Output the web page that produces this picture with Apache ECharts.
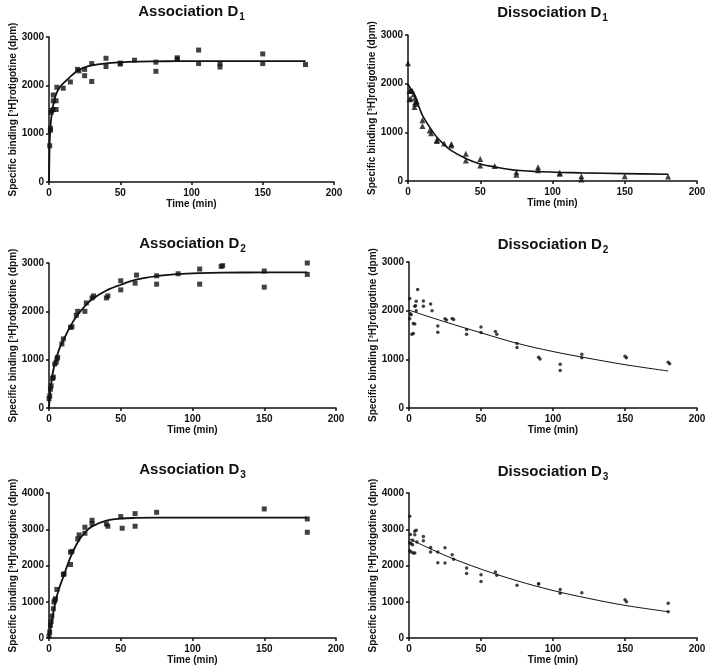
<!DOCTYPE html>
<html>
<head>
<meta charset="utf-8">
<script src="https://cdn.jsdelivr.net/npm/echarts@6/dist/echarts.min.js"></script>
<style>html,body{margin:0;padding:0;background:#fff;}#c{width:709px;height:669px;}</style>
</head>
<body>
<div id="c"></div>
<script>
// ---- data ----
const xTicks = [0, 50, 100, 150, 200];
const yMax = [3000, 3000, 3000, 3000, 4000, 4000];
const titles = ['Association D', 'Dissociation D', 'Association D', 'Dissociation D', 'Association D', 'Dissociation D'];
const titleSubs = ['1', '1', '2', '2', '3', '3'];
const xName = 'Time (min)';
const yName = 'Specific binding [³H]rotigotine (dpm)';

const assocD1Points = [[0.5,750],[1,1070],[1,1110],[1.5,1440],[2,1480],[3,1500],[3,1680],[3,1800],[5,1500],[5,1680],[5.5,1960],[10,1940],[15,2070],[20,2330],[21,2300],[25,2330],[25,2200],[30,2450],[30,2080],[40,2560],[40,2390],[50,2460],[50,2440],[60,2520],[75,2480],[75,2290],[90,2570],[90,2540],[105,2730],[105,2450],[120,2450],[120,2380],[150,2650],[150,2450],[180,2430]];
const assocD1Fit = [[0,0],[0.25,480],[0.5,850],[1,1130],[1.5,1300],[2,1410],[3,1600],[4,1720],[5,1820],[7.5,1960],[10,2040],[12.5,2110],[15,2180],[20,2300],[25,2370],[30,2415],[40,2456],[50,2477],[60,2490],[75,2496],[90,2499],[120,2500],[150,2500],[180,2500]];

const dissD1Points = [[0,2420],[1,1850],[2,1860],[3,1850],[1,1680],[2,1690],[4,1780],[5,1710],[5,1620],[5,1580],[4.5,1520],[6,1640],[10,1250],[10,1130],[15,1040],[16,980],[20,840],[20,820],[25,770],[30,760],[30,730],[40,560],[40,420],[50,450],[50,320],[60,310],[75,180],[75,130],[90,280],[90,220],[105,150],[105,170],[120,100],[120,30],[150,100],[180,90]];
const dissD1Fit = [[0,1990],[2.5,1860],[5,1730],[7.5,1530],[10,1350],[15,1107],[20,900],[25,750],[30,623],[40,464],[50,350],[60,290],[75,221],[90,194],[105,178],[120,166],[150,152],[180,140]];

const assocD2Points = [[0,194],[0.5,250],[1,389],[1.5,458],[2.5,611],[3,639],[4,910],[5,944],[5.5,1014],[6,1048],[9,1326],[10,1430],[15,1667],[16,1680],[19,1917],[20,2000],[25,2000],[26,2174],[30,2278],[31,2319],[40,2278],[41,2319],[50,2444],[50,2632],[60,2583],[61,2750],[75,2562],[75,2736],[90,2778],[105,2875],[105,2562],[120,2930],[121,2944],[150,2833],[150,2500],[180,3000],[180,2764]];
const assocD2Fit = [[0,0],[1,380],[2,600],[3,780],[5,1020],[7.5,1250],[10,1400],[15,1700],[20,1930],[25,2110],[30,2250],[40,2430],[50,2550],[60,2650],[75,2730],[90,2770],[105,2790],[120,2800],[150,2805],[180,2805]];

const dissD2Points = [[0.5,2248],[1,1938],[0.5,1834],[1.5,1917],[2,1517],[3,1531],[3,1738],[4,1724],[4,2090],[4.5,2103],[5,2000],[5,2193],[6,2434],[10,2200],[10,2090],[15,2138],[16,2000],[20,1683],[20,1559],[25,1834],[26,1807],[30,1841],[31,1820],[40,1614],[40,1517],[50,1662],[50,1552],[60,1572],[61,1517],[75,1324],[75,1241],[90,1041],[91,1007],[105,897],[105,772],[120,1103],[120,1034],[150,1062],[151,1034],[180,938],[181,910]];
const dissD2Fit = [[0,2010],[25,1770],[50,1545],[75,1330],[100,1160],[125,1020],[150,890],[180,760]];

const assocD3Points = [[0,55],[0.5,165],[1,349],[1.5,459],[2,605],[3,807],[3.5,991],[4,1037],[4.5,1083],[5.5,1340],[10,1752],[10.5,1771],[15,2367],[15,2028],[16,2390],[20,2734],[21,2844],[25,3055],[25,2890],[30,3248],[30,3156],[40,3147],[41,3083],[50,3349],[51,3028],[60,3431],[60,3083],[75,3468],[150,3560],[180,3284],[180,2917]];
const assocD3Fit = [[0,0],[2.5,600],[5,1083],[7.5,1420],[10,1690],[15,2230],[20,2640],[25,2910],[30,3080],[40,3240],[50,3294],[60,3312],[75,3320],[100,3321],[150,3321],[180,3321]];

const dissD3Points = [[0.5,3359],[1,2856],[0.5,2627],[1.5,2600],[2.5,2572],[0.5,2407],[1.5,2370],[3,2343],[4,2343],[2.5,2700],[4,2947],[5,2975],[4,2847],[5.5,2645],[10,2800],[10,2682],[15,2499],[15,2370],[20,2370],[20,2078],[25,2490],[25,2069],[30,2297],[31,2169],[40,1931],[40,1776],[50,1748],[50,1556],[60,1821],[61,1730],[75,1455],[90,1492],[90,1500],[105,1336],[105,1236],[120,1245],[150,1053],[151,998],[180,961],[180,723]];
const dissD3Fit = [[0,2740],[25,2280],[50,1900],[75,1580],[100,1310],[125,1090],[150,900],[180,725]];

const pointSets = [assocD1Points, dissD1Points, assocD2Points, dissD2Points, assocD3Points, dissD3Points];
const fitSets = [assocD1Fit, dissD1Fit, assocD2Fit, dissD2Fit, assocD3Fit, dissD3Fit];

// ---- layout / style ----
const FONT = '"Liberation Sans", Arial, sans-serif';
const INK = '#111';
const grids = [
  {left: 49, top: 37, width: 285, height: 145},
  {left: 408, top: 35, width: 289, height: 146},
  {left: 49, top: 263, width: 287, height: 145},
  {left: 409, top: 262, width: 288, height: 146},
  {left: 49, top: 493, width: 287, height: 145},
  {left: 409, top: 493, width: 288, height: 145}
];
const titleTops = [4, 5, 236, 237, 462, 464];
const symbols = ['rect', 'triangle', 'rect', 'circle', 'rect', 'circle'];
const symbolSizes = [5, 6, 5, 3.5, 5, 3.5];
const lineWidths = [1.8, 1.6, 1.8, 1, 1.8, 1];
const plain = v => String(v);

const option = {
  animation: false,
  backgroundColor: '#fff',
  title: grids.map((g, i) => ({
    text: '{m|' + titles[i] + '}{s|' + titleSubs[i] + '}',
    left: g.left + g.width / 2,
    top: titleTops[i],
    textAlign: 'center',
    padding: 0,
    textStyle: {
      rich: {
        m: {fontFamily: FONT, fontSize: 15, fontWeight: 'bold', color: INK, verticalAlign: 'top', lineHeight: 18},
        s: {fontFamily: FONT, fontSize: 10, fontWeight: 'bold', color: INK, verticalAlign: 'top', lineHeight: 18, padding: [8, 0, 0, 1]}
      }
    }
  })),
  grid: grids.map(g => Object.assign({outerBoundsMode: 'none', containLabel: false}, g)),
  xAxis: grids.map((g, i) => ({
    type: 'value', gridIndex: i, min: xTicks[0], max: xTicks[xTicks.length - 1], interval: 50,
    name: xName, nameLocation: 'middle', nameGap: 16,
    nameTextStyle: {fontFamily: FONT, fontSize: 10, fontWeight: 'bold', color: INK},
    axisLine: {show: true, onZero: false, lineStyle: {color: INK, width: 1.5}},
    axisTick: {show: true, inside: false, length: 3, lineStyle: {color: INK, width: 1.5}},
    axisLabel: {fontFamily: FONT, fontSize: 10, fontWeight: 'bold', color: INK, margin: 6, formatter: plain},
    splitLine: {show: false}
  })),
  yAxis: grids.map((g, i) => ({
    type: 'value', gridIndex: i, min: 0, max: yMax[i], interval: 1000,
    name: yName, nameLocation: 'middle', nameGap: 28,
    nameTextStyle: {fontFamily: FONT, fontSize: 10, fontWeight: 'bold', color: INK},
    axisLine: {show: true, onZero: false, lineStyle: {color: INK, width: 1.5}},
    axisTick: {show: true, inside: false, length: 3, lineStyle: {color: INK, width: 1.5}},
    axisLabel: {fontFamily: FONT, fontSize: 10, fontWeight: 'bold', color: INK, margin: 5, formatter: plain},
    splitLine: {show: false}
  })),
  series: []
};

for (let i = 0; i < 6; i++) {
  option.series.push({
    type: 'line', xAxisIndex: i, yAxisIndex: i, data: fitSets[i],
    smooth: 0.35, showSymbol: false, symbol: 'none',
    lineStyle: {color: INK, width: lineWidths[i]}, z: 2, silent: true
  });
  option.series.push({
    type: 'scatter', xAxisIndex: i, yAxisIndex: i, data: pointSets[i],
    symbol: symbols[i], symbolSize: symbolSizes[i],
    itemStyle: {color: INK}, z: 3, silent: true
  });
}

const chart = echarts.init(document.getElementById('c'), null, {renderer: 'canvas'});
chart.setOption(option);
</script>
</body>
</html>
